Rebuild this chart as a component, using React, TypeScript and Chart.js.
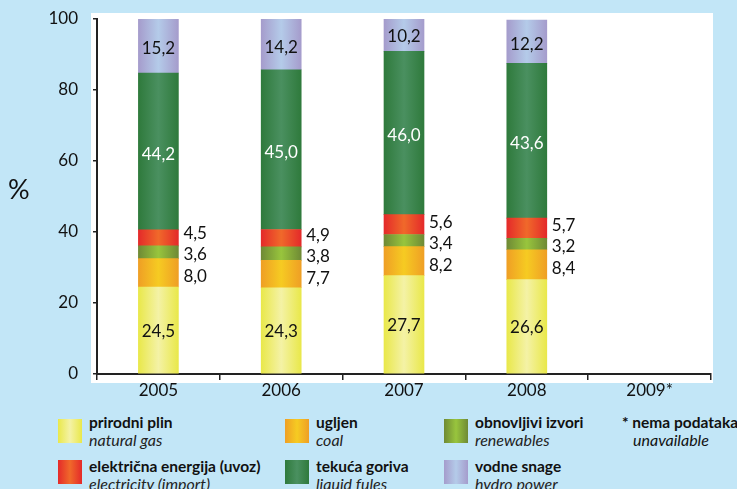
import React, { useEffect, useRef } from "react";
import { Chart, registerables } from "chart.js";

Chart.register(...registerables);

const categories = ["2005", "2006", "2007", "2008", "2009*"];
const naturalGas = [24.5, 24.3, 27.7, 26.6, null];
const coal = [8.0, 7.7, 8.2, 8.4, null];
const renewables = [3.6, 3.8, 3.4, 3.2, null];
const electricity = [4.5, 4.9, 5.6, 5.7, null];
const liquidFuels = [44.2, 45.0, 46.0, 43.6, null];
const hydro = [15.2, 14.2, 10.2, 12.2, null];
const yTicks = [0, 20, 40, 60, 80, 100];

const legendItems = [
  { hr: "prirodni plin", en: "natural gas", edge: "#e9e84a", mid: "#f4f2a6" },
  { hr: "ugljen", en: "coal", edge: "#ef9f25", mid: "#f6cb22" },
  { hr: "obnovljivi izvori", en: "renewables", edge: "#6f8a35", mid: "#98c53d" },
  { hr: "električna energija (uvoz)", en: "electricity (import)", edge: "#e42a2a", mid: "#f0692a" },
  { hr: "tekuća goriva", en: "liquid fules", edge: "#2f7a3c", mid: "#4a9060" },
  { hr: "vodne snage", en: "hydro power", edge: "#a59ccc", mid: "#b4cbe9" },
];

const BAR_W = 40;
const FONT = "Lato, 'Open Sans', sans-serif";

function grad(edge: string, mid: string) {
  return (ctx: any) => {
    const chart = ctx.chart;
    const xs = chart.scales && chart.scales.x;
    if (!xs || ctx.dataIndex === undefined) return mid;
    const cx = xs.getPixelForValue(ctx.dataIndex);
    if (!isFinite(cx)) return mid;
    const g = chart.ctx.createLinearGradient(cx - BAR_W / 2, 0, cx + BAR_W / 2, 0);
    g.addColorStop(0, edge);
    g.addColorStop(0.5, mid);
    g.addColorStop(1, edge);
    return g;
  };
}

const whiteArea = {
  id: "whiteArea",
  beforeDraw(chart: any) {
    const { ctx, chartArea } = chart;
    ctx.save();
    ctx.fillStyle = "#ffffff";
    ctx.fillRect(chartArea.left - 6, chartArea.top - 6, chartArea.right - chartArea.left + 8, chartArea.bottom - chartArea.top + 15);
    ctx.restore();
  },
};

const labelsPlugin = {
  id: "valueLabels",
  afterDatasetsDraw(chart: any) {
    const ctx = chart.ctx;
    ctx.save();
    ctx.font = `17px ${FONT}`;
    ctx.textBaseline = "middle";
    const metas = [0, 1, 2, 3, 4, 5].map((i) => chart.getDatasetMeta(i));
    const fmt = (v: number) => v.toFixed(1).replace(".", ",");
    for (let j = 0; j < categories.length; j++) {
      const vals = chart.data.datasets.map((d: any) => d.data[j]);
      if (vals[0] == null) continue;
      const el = (i: number) => metas[i].data[j];
      const center = (i: number) => (el(i).y + el(i).base) / 2;
      ctx.textAlign = "center";
      ctx.fillStyle = "#111";
      ctx.fillText(fmt(vals[0]), el(0).x, center(0) + 1);
      ctx.fillStyle = "#ffffff";
      ctx.fillText(fmt(vals[4]), el(4).x, center(4) + 3);
      ctx.fillStyle = "#111";
      ctx.fillText(fmt(vals[5]), el(5).x, Math.max(center(5) + 3, el(5).y + 11));
      ctx.textAlign = "left";
      const lx = el(2).x + BAR_W / 2 + 5;
      const renY = center(2) + 2.5;
      ctx.fillText(fmt(vals[2]), lx, renY);
      ctx.fillText(fmt(vals[3]), lx, Math.min(center(3) - 1, renY - 21));
      ctx.fillText(fmt(vals[1]), lx, Math.max(center(1) + 3, renY + 22));
    }
    ctx.restore();
  },
};

export default function App() {
  const ref = useRef<HTMLCanvasElement | null>(null);
  useEffect(() => {
    if (!ref.current) return;
    const mk = (label: string, data: any[], edge: string, mid: string) => ({
      label,
      data,
      backgroundColor: grad(edge, mid),
      borderWidth: 0,
      barThickness: BAR_W,
    });
    const chart = new Chart(ref.current, {
      type: "bar",
      data: {
        labels: categories,
        datasets: [
          mk("prirodni plin", naturalGas, legendItems[0].edge, legendItems[0].mid),
          mk("ugljen", coal, legendItems[1].edge, legendItems[1].mid),
          mk("obnovljivi izvori", renewables, legendItems[2].edge, legendItems[2].mid),
          mk("električna energija (uvoz)", electricity, legendItems[3].edge, legendItems[3].mid),
          mk("tekuća goriva", liquidFuels, legendItems[4].edge, legendItems[4].mid),
          mk("vodne snage", hydro, legendItems[5].edge, legendItems[5].mid),
        ],
      },
      options: {
        responsive: false,
        animation: false,
        devicePixelRatio: 1,
        layout: { padding: { top: 19, right: 26, left: 0, bottom: 0 } },
        plugins: { legend: { display: false }, tooltip: { enabled: false } },
        scales: {
          x: {
            stacked: true,
            grid: { drawOnChartArea: false, offset: true, tickLength: 6, color: "#222", lineWidth: 1.5 },
            border: { display: true, color: "#222", width: 2 },
            ticks: { color: "#111", font: { family: FONT, size: 17 }, padding: 0, maxRotation: 0 },
            afterFit: (s: any) => { s.height = 26; },
          },
          y: {
            stacked: true,
            min: 0,
            max: 100,
            afterBuildTicks: (s: any) => { s.ticks = yTicks.map((v) => ({ value: v })); },
            grid: { drawOnChartArea: false, tickLength: 4, color: "#222", lineWidth: 1.5 },
            border: { display: true, color: "#222", width: 2 },
            ticks: { color: "#111", font: { family: FONT, size: 17 }, padding: 15 },
            afterFit: (s: any) => { s.width = 97; s.paddingTop = 0; s.paddingBottom = 0; },
          },
        },
      },
      plugins: [whiteArea, labelsPlugin],
    });
    return () => chart.destroy();
  }, []);

  const colX = [58, 285, 444];
  const rowY = [419, 460];
  const textOff = [-5, -2];
  return (
    <div style={{ position: "fixed", left: 0, top: 0, width: 737, height: 489, background: "#c2e6f7", overflow: "hidden", fontFamily: FONT }}>
      <canvas ref={ref} width={737} height={400} style={{ position: "absolute", left: 0, top: 0, width: 737, height: 400 }} />
      <div style={{ position: "absolute", left: 8, top: 172, fontSize: 27, color: "#111" }}>%</div>
      {legendItems.map((it, i) => {
        const col = i % 3;
        const row = Math.floor(i / 3);
        return (
          <div key={it.hr} style={{ position: "absolute", left: colX[col], top: rowY[row] }}>
            <div style={{ position: "absolute", left: 0, top: 0, width: 24, height: 24, background: `linear-gradient(to right, ${it.edge}, ${it.mid}, ${it.edge})` }} />
            <div style={{ position: "absolute", left: 31, top: textOff[row], whiteSpace: "nowrap", fontSize: 15.5, lineHeight: "17px", color: "#111" }}>
              <div style={{ fontWeight: "bold" }}>{it.hr}</div>
              <div style={{ fontStyle: "italic", color: "#222", fontSize: 16 }}>{it.en}</div>
            </div>
          </div>
        );
      })}
      <div style={{ position: "absolute", left: 622, top: 414, whiteSpace: "nowrap", fontSize: 15.5, lineHeight: "17px", color: "#111" }}>
        <div style={{ fontWeight: "bold" }}>* nema podataka</div>
        <div style={{ fontStyle: "italic", paddingLeft: 11, fontSize: 16 }}>unavailable</div>
      </div>
    </div>
  );
}
